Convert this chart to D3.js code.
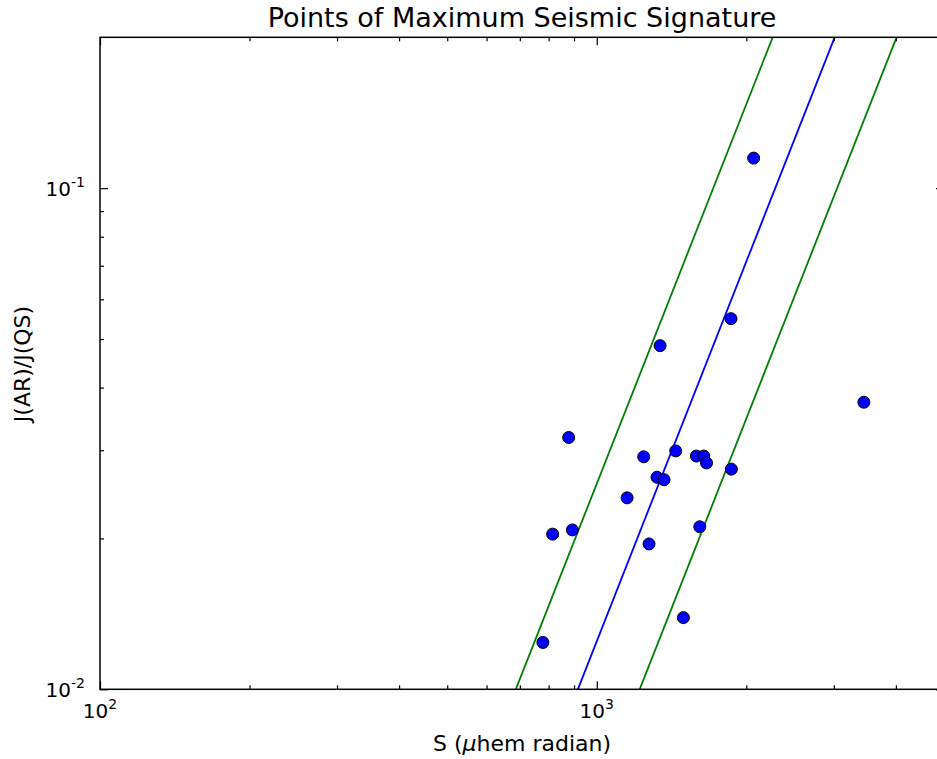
<!DOCTYPE html>
<html>
<head>
<meta charset="utf-8">
<script src="https://cdn.jsdelivr.net/npm/d3@7"></script>
<style>
  body { margin: 0; background: #fff; }
  svg { display: block; font-family: "DejaVu Sans", sans-serif; }
</style>
</head>
<body>
<div id="chart-area"></div>
<script>
// flux S (micro-hemisphere radian) and current ratio of the points
const sValues = [779, 815, 893, 878, 1151, 1243, 1274, 1322, 1366, 1341,
                 1442, 1494, 1587, 1642, 1663, 1612, 1863, 1866, 2069, 3449];
const jRatio = [0.0124, 0.0204, 0.0208, 0.0318, 0.0241, 0.0291, 0.0195, 0.0265, 0.0262, 0.0485,
                0.0299, 0.0139, 0.0292, 0.0292, 0.0283, 0.0211, 0.0549, 0.0275, 0.1148, 0.0374];

// fit line and the two bounding lines, given by end points
const fitS = [916, 3012];
const fitJ = [0.01, 0.2];
const lowS = [687, 2260];
const lowJ = [0.01, 0.2];
const highS = [1220, 4013];
const highJ = [0.01, 0.2];

const xMajor = [100, 1000];
const xMinor = [200, 300, 400, 500, 600, 700, 800, 900, 2000, 3000, 4000];
const yMajor = [0.01, 0.1];
const yMinor = [0.02, 0.03, 0.04, 0.05, 0.06, 0.07, 0.08, 0.09];

const margin = {top: 37.3, right: -7, bottom: 69.7, left: 100};
const W = 937, H = 759;
const width = W - margin.left - margin.right;
const height = H - margin.top - margin.bottom;

const svg = d3.select('#chart-area')
    .append('svg')
    .attr('width', W)
    .attr('height', H);

const g = svg.append('g')
    .attr('transform', `translate(${margin.left}, ${margin.top})`);

const x = d3.scaleLog().domain([100, 5000]).range([0, width]);
const y = d3.scaleLog().domain([0.01, 0.2]).range([height, 0]);

g.append('clipPath').attr('id', 'plot-clip')
  .append('rect').attr('width', width).attr('height', height);

const plot = g.append('g').attr('clip-path', 'url(#plot-clip)');

const line = d3.line().x(d => x(d[0])).y(d => y(d[1]));
const lines = [
  {s: lowS, j: lowJ, color: '#008000'},
  {s: fitS, j: fitJ, color: '#0000ff'},
  {s: highS, j: highJ, color: '#008000'}
];
plot.selectAll('path.fit')
  .data(lines)
  .enter().append('path')
  .attr('class', 'fit')
  .attr('d', d => line(d.s.map((v, i) => [v, d.j[i]])))
  .attr('fill', 'none')
  .attr('stroke', d => d.color)
  .attr('stroke-width', 1.8);

const pts = sValues.map((s, i) => ({s: s, j: jRatio[i]}));
g.selectAll('circle')
  .data(pts)
  .enter().append('circle')
  .attr('cx', d => x(d.s))
  .attr('cy', d => y(d.j))
  .attr('r', 6)
  .attr('fill', '#0000ff')
  .attr('stroke', '#000')
  .attr('stroke-width', 1);

// ticks on all four sides, pointing inward
function ticks(axisFn, scale, values, size, transform) {
  const a = g.append('g')
    .attr('transform', transform)
    .call(axisFn(scale).tickValues(values).tickSize(size).tickSizeOuter(0).tickFormat(''));
  a.select('.domain').remove();
  a.selectAll('line').attr('stroke', '#000').attr('stroke-width', 1.2);
  return a;
}
ticks(d3.axisBottom, x, xMajor, -8, `translate(0,${height})`);
ticks(d3.axisBottom, x, xMinor, -4, `translate(0,${height})`);
ticks(d3.axisTop, x, xMajor, -8, 'translate(0,0)');
ticks(d3.axisTop, x, xMinor, -4, 'translate(0,0)');
ticks(d3.axisLeft, y, yMajor, -8, 'translate(0,0)');
ticks(d3.axisLeft, y, yMinor, -4, 'translate(0,0)');
ticks(d3.axisRight, y, yMajor, -8, `translate(${width},0)`);
ticks(d3.axisRight, y, yMinor, -4, `translate(${width},0)`);

g.append('rect')
  .attr('width', width)
  .attr('height', height)
  .attr('fill', 'none')
  .attr('stroke', '#000')
  .attr('stroke-width', 1.5);

// tick labels with superscript exponents
const xl = g.selectAll('text.xtick')
  .data(xMajor)
  .enter().append('text')
  .attr('class', 'xtick')
  .attr('x', d => x(d))
  .attr('y', height + 29)
  .attr('text-anchor', 'middle')
  .attr('font-size', 20);
xl.append('tspan').text('10');
xl.append('tspan').attr('dy', -9).attr('font-size', 14).text(d => Math.round(Math.log10(d)));

const yl = g.selectAll('text.ytick')
  .data(yMajor)
  .enter().append('text')
  .attr('class', 'ytick')
  .attr('x', -15)
  .attr('y', d => y(d) + 8)
  .attr('text-anchor', 'end')
  .attr('font-size', 20);
yl.append('tspan').text('10');
yl.append('tspan').attr('dy', -9).attr('font-size', 14).text(d => Math.round(Math.log10(d)));

svg.append('text')
  .attr('x', margin.left + width / 2)
  .attr('y', 27)
  .attr('text-anchor', 'middle')
  .attr('font-size', 27)
  .text('Points of Maximum Seismic Signature');

const xt = svg.append('text')
  .attr('x', margin.left + width / 2)
  .attr('y', 751)
  .attr('text-anchor', 'middle')
  .attr('font-size', 22);
xt.append('tspan').text('S (');
xt.append('tspan').attr('font-style', 'italic').text('\u03bc');
xt.append('tspan').text('hem radian)');

svg.append('text')
  .attr('transform', 'translate(30,364) rotate(-90)')
  .attr('text-anchor', 'middle')
  .attr('font-size', 22)
  .text('J(AR)/J(QS)');
</script>
</body>
</html>
